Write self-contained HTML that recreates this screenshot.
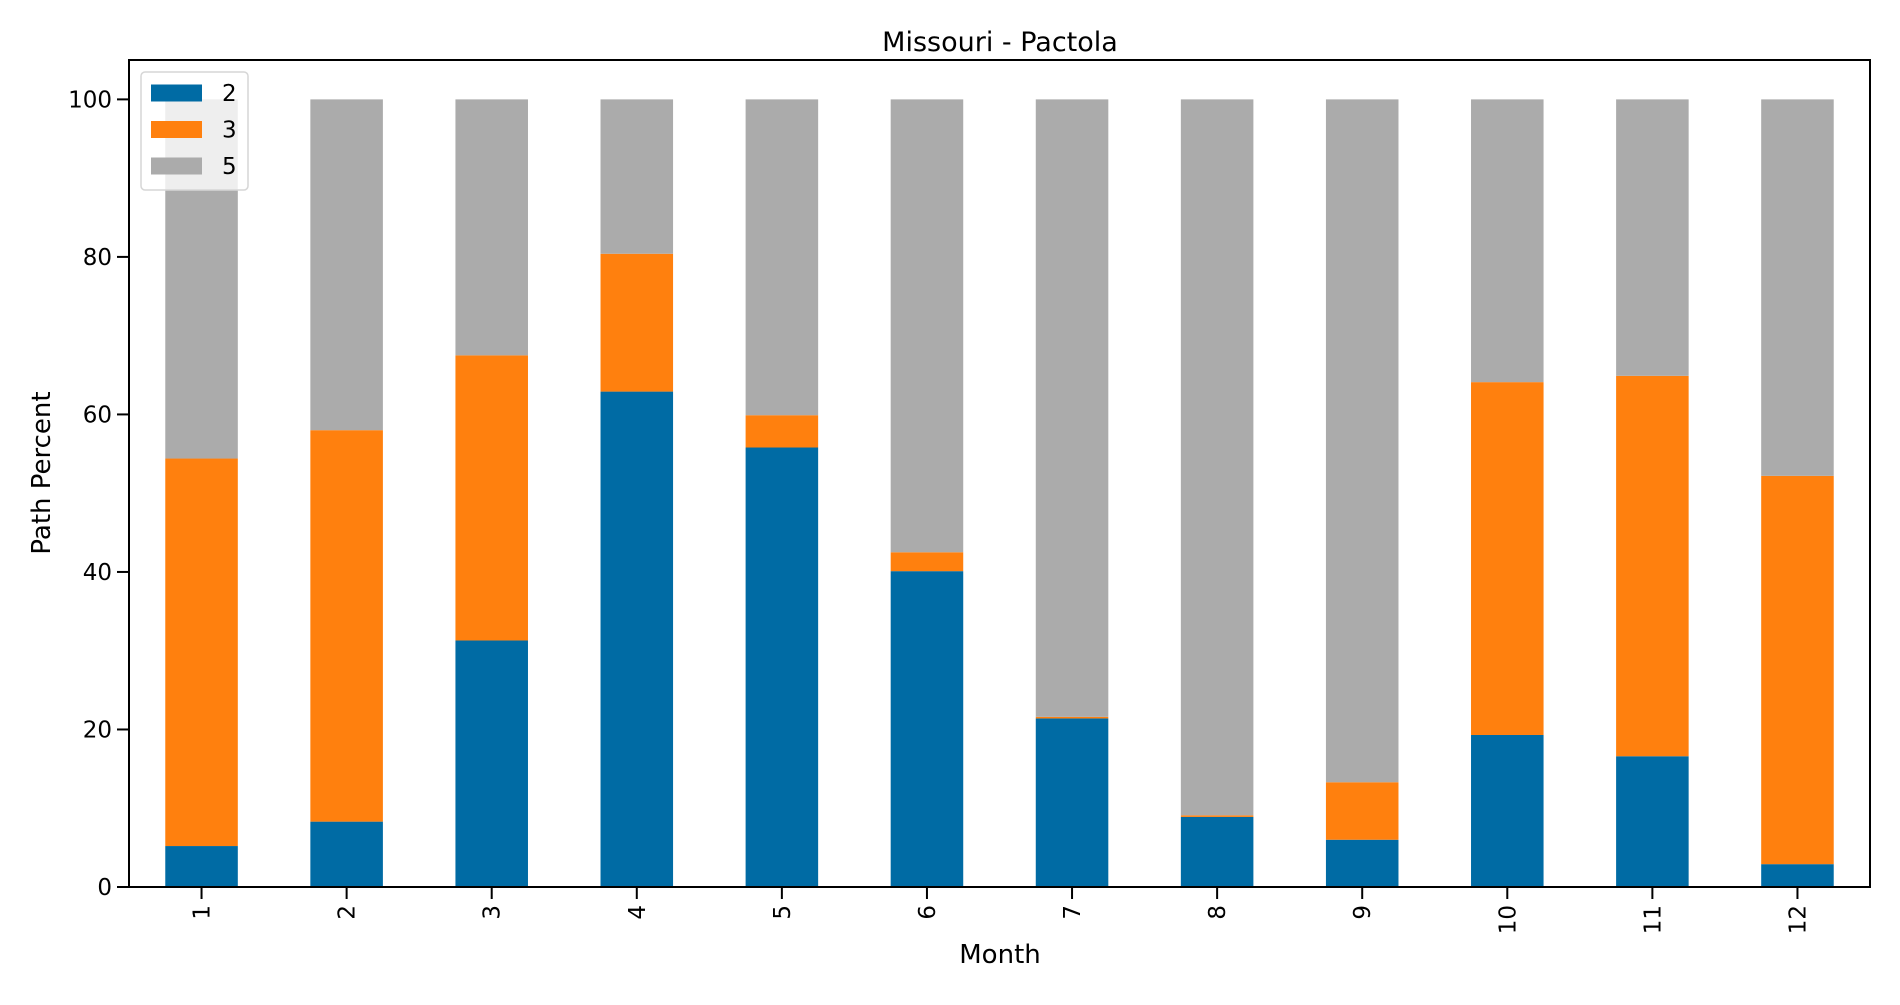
<!DOCTYPE html>
<html><head><meta charset="utf-8"><style>
body{margin:0;background:#fff}
svg text{font-family:"DejaVu Sans","Liberation Sans",sans-serif;fill:#000}
</style></head><body>
<svg id="chart" width="1900" height="1000">
<text x="1000" y="51" font-size="27" text-anchor="middle">Missouri - Pactola</text>
<g id="bars"></g>
<g id="axes"></g>
<text x="1000" y="963" font-size="26" text-anchor="middle">Month</text>
<text transform="translate(50,473) rotate(-90)" font-size="26" text-anchor="middle">Path Percent</text>
<g id="legend">
<rect x="141" y="72" width="107" height="118" rx="4" fill="#fff" fill-opacity="0.8" stroke="#d6d6d6" stroke-width="1.5"/>
</g>
</svg>
<script>
const categories=["1","2","3","4","5","6","7","8","9","10","11","12"];
const series2=[5.2,8.3,31.3,62.9,55.8,40.1,21.4,8.9,6.0,19.3,16.6,2.9];
const series3=[49.2,49.7,36.2,17.5,4.1,2.4,0.2,0.2,7.3,44.8,48.3,49.3];
const series5=[45.6,42.0,32.5,19.6,40.1,57.5,78.4,90.9,86.7,35.9,35.1,47.8];
const seriesNames=["2","3","5"];
const yTicks=[0,20,40,60,80,100];
const NS="http://www.w3.org/2000/svg";
const L=129,R=1870,T=60,B=887,YMAX=105;
const colors=["#006ba4","#ff800e","#ababab"];
const y=v=>B-(v/YMAX)*(B-T);
const step=(R-L)/categories.length;
const x=i=>L+step*(i+0.5);
const bw=step*0.5;
function mk(tag,attrs,parent){const e=document.createElementNS(NS,tag);for(const k in attrs)e.setAttribute(k,attrs[k]);parent.appendChild(e);return e;}
const bars=document.getElementById('bars');
const all=[series2,series3,series5];
categories.forEach((c,i)=>{
  let base=0;
  all.forEach((s,j)=>{
    const r=mk('rect',{x:x(i)-bw/2,y:y(base+s[i]),width:bw,height:y(base)-y(base+s[i]),fill:colors[j]},bars);
    
    
    base+=s[i];
  });
});
const ax=document.getElementById('axes');
const frame=mk('rect',{x:L,y:T,width:R-L,height:B-T,fill:'none',stroke:'#000','stroke-width':2},ax);


yTicks.forEach(t=>{
  mk('line',{x1:L-12,x2:L,y1:y(t),y2:y(t),stroke:'#000','stroke-width':2},ax);
  const tx=mk('text',{x:L-17,y:y(t)+8,'font-size':23,'text-anchor':'end'},ax);
  tx.textContent=t;
  
  
});
categories.forEach((c,i)=>{
  mk('line',{x1:x(i),x2:x(i),y1:B,y2:B+12,stroke:'#000','stroke-width':2},ax);
  const tx=mk('text',{transform:`translate(${x(i)+8},${B+18}) rotate(-90)`,'font-size':23,'text-anchor':'end'},ax);
  tx.textContent=c;
  
  
});
const lg=document.getElementById('legend');
seriesNames.forEach((n,j)=>{
  const cy=93+j*36.5;
  const p=mk('rect',{x:151,y:cy-8.5,width:51,height:17,fill:colors[j]},lg);
  
  
  const t=mk('text',{x:222,y:cy+8,'font-size':23},lg);
  t.textContent=n;
  
  
});
</script>
</body></html>
